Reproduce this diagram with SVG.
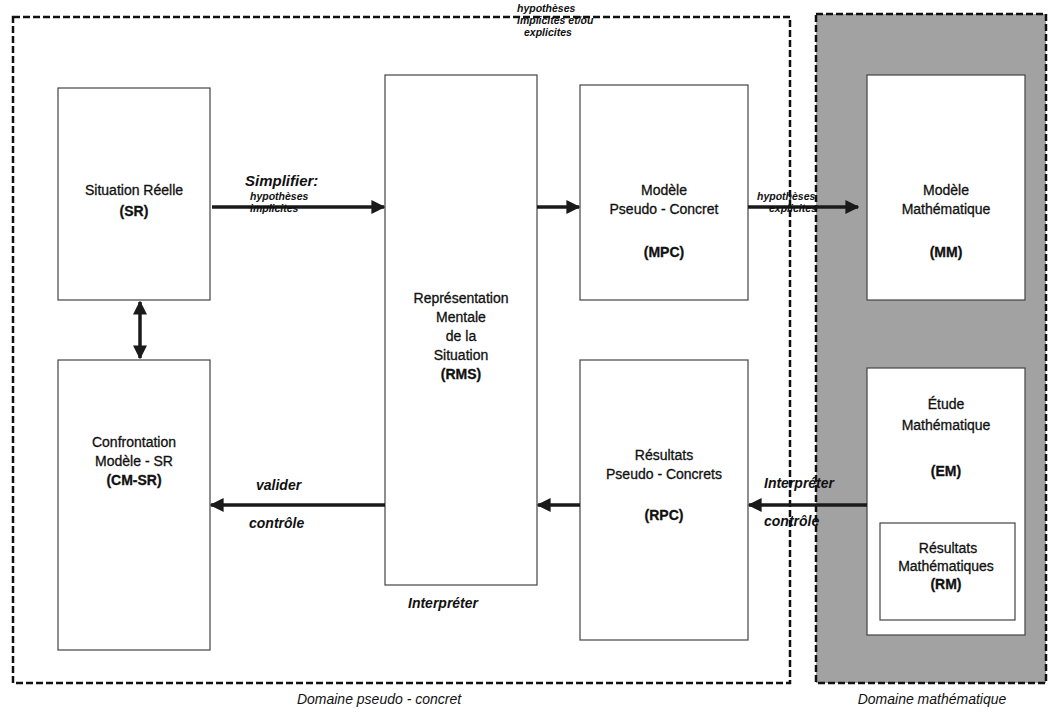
<svg xmlns="http://www.w3.org/2000/svg" width="1051" height="712" viewBox="0 0 1051 712">
<defs>
<style>
.box{fill:#fff;stroke:#444;stroke-width:1.2}
.t{font-family:"Liberation Sans",Arial,sans-serif;font-size:14px;fill:#111;stroke:#111;stroke-width:0.3;text-anchor:middle}
.b{font-weight:bold}
.lab{font-family:"Liberation Sans",Arial,sans-serif;font-weight:bold;font-style:italic;fill:#111}
.dom{font-family:"Liberation Sans",Arial,sans-serif;font-style:italic;font-size:14px;fill:#111;text-anchor:middle}
.dash{fill:none;stroke:#111;stroke-width:2.5;stroke-dasharray:7 3}
.arr{stroke:#1a1a1a;stroke-width:3.5;fill:none}
</style>
<marker id="ah" viewBox="0 0 10 10" refX="9" refY="5" markerWidth="4" markerHeight="4" orient="auto-start-reverse" markerUnits="strokeWidth">
<path d="M0,0 L10,5 L0,10 z" fill="#1a1a1a"/>
</marker>
</defs>
<rect width="1051" height="712" fill="#fff"/>
<g id="domain-pseudo">
<rect class="dash" x="13" y="17" width="777" height="666"/>
<text class="dom" x="379" y="704">Domaine pseudo - concret</text>
</g>
<g id="domain-math">
<rect x="816" y="14" width="230" height="669" fill="#a2a2a2" stroke="#111" stroke-width="2.5" stroke-dasharray="7 3"/>
<text class="dom" x="932" y="704">Domaine mathématique</text>
</g>
<g id="SR">
<rect class="box" x="58" y="88" width="152" height="212"/>
<text class="t" x="134" y="195">Situation Réelle</text>
<text class="t b" x="134" y="216">(SR)</text>
</g>
<g id="CMSR">
<rect class="box" x="58" y="360" width="152" height="290"/>
<text class="t" x="134" y="447">Confrontation</text>
<text class="t" x="134" y="466">Modèle - SR</text>
<text class="t b" x="134" y="485">(CM-SR)</text>
</g>
<g id="RMS">
<rect class="box" x="385" y="75" width="152" height="510"/>
<text class="t" x="461" y="303">Représentation</text>
<text class="t" x="461" y="322">Mentale</text>
<text class="t" x="461" y="341">de la</text>
<text class="t" x="461" y="360">Situation</text>
<text class="t b" x="461" y="379">(RMS)</text>
</g>
<g id="MPC">
<rect class="box" x="580" y="85" width="168" height="215"/>
<text class="t" x="664" y="195">Modèle</text>
<text class="t" x="664" y="214">Pseudo - Concret</text>
<text class="t b" x="664" y="257">(MPC)</text>
</g>
<g id="RPC">
<rect class="box" x="580" y="360" width="168" height="280"/>
<text class="t" x="664" y="460">Résultats</text>
<text class="t" x="664" y="479">Pseudo - Concrets</text>
<text class="t b" x="664" y="520">(RPC)</text>
</g>
<g id="MM">
<rect class="box" x="867" y="75" width="158" height="225"/>
<text class="t" x="946" y="195">Modèle</text>
<text class="t" x="946" y="214">Mathématique</text>
<text class="t b" x="946" y="257">(MM)</text>
</g>
<g id="EM">
<rect class="box" x="867" y="368" width="158" height="267"/>
<text class="t" x="946" y="409">Étude</text>
<text class="t" x="946" y="430">Mathématique</text>
<text class="t b" x="946" y="476">(EM)</text>
</g>
<g id="RM">
<rect class="box" x="880" y="523" width="135" height="97"/>
<text class="t" x="948" y="553">Résultats</text>
<text class="t" x="946" y="571">Mathématiques</text>
<text class="t b" x="946" y="589">(RM)</text>
</g>
<g id="connectors">
<line class="arr" x1="212" y1="207" x2="384" y2="207" marker-end="url(#ah)"/>
<line class="arr" x1="537" y1="207" x2="579" y2="207" marker-end="url(#ah)"/>
<line class="arr" x1="748" y1="207" x2="858" y2="207" marker-end="url(#ah)"/>
<line class="arr" x1="140" y1="302" x2="140" y2="358" marker-start="url(#ah)" marker-end="url(#ah)"/>
<line class="arr" x1="580" y1="505" x2="538" y2="505" marker-end="url(#ah)"/>
<line class="arr" x1="385" y1="505" x2="211" y2="505" marker-end="url(#ah)"/>
<line class="arr" x1="867" y1="505" x2="749" y2="505" marker-end="url(#ah)"/>
</g>
<g id="labels">
<text class="lab" x="245" y="186" font-size="15">Simplifier:</text>
<text class="lab" x="250" y="200" font-size="10.5">hypothèses</text>
<text class="lab" x="250" y="212" font-size="10.5">implicites</text>
<text class="lab" x="517" y="12" font-size="10.5">hypothèses</text>
<text class="lab" x="517" y="24" font-size="10.5">implicites et/ou</text>
<text class="lab" x="524" y="36" font-size="10.5">explicites</text>
<text class="lab" x="757" y="200" font-size="10.5">hypothèses</text>
<text class="lab" x="769" y="212" font-size="10.5">explicites</text>
<text class="lab" x="256" y="490" font-size="14">valider</text>
<text class="lab" x="249" y="528" font-size="14">contrôle</text>
<text class="lab" x="408" y="608" font-size="14">Interpréter</text>
<text class="lab" x="764" y="488" font-size="14">Interpréter</text>
<text class="lab" x="764" y="526" font-size="14">contrôle</text>
</g>
</svg>
